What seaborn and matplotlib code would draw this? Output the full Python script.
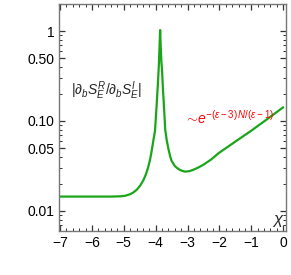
import matplotlib
matplotlib.use("Agg")
import matplotlib.pyplot as plt
import seaborn as sns
from matplotlib.ticker import FixedLocator, MultipleLocator, LogLocator, NullFormatter

# values
chi = [-7.0, -6.0, -5.4, -5.1, -4.96, -4.80, -4.70, -4.59, -4.48, -4.38, -4.30, -4.23,
       -4.17, -4.12, -4.07, -4.02, -3.97, -3.93, -3.90, -3.88, -3.86, -3.84, -3.82,
       -3.80, -3.77, -3.745, -3.70, -3.65, -3.60, -3.55, -3.50, -3.40, -3.29, -3.18,
       -3.08, -2.95, -2.82, -2.65, -2.50, -2.25, -2.03, -1.5, -1.0, -0.5, 0.0]
ratio = [0.0144, 0.0144, 0.0144, 0.0145, 0.0147, 0.0153, 0.0160, 0.0172, 0.0192, 0.0221,
         0.0258, 0.0310, 0.0380, 0.0476, 0.0615, 0.0780, 0.150, 0.26, 0.42, 0.65,
         1.03, 0.65, 0.45, 0.37, 0.22, 0.157, 0.080, 0.060, 0.049, 0.041, 0.036, 0.0315,
         0.0292, 0.0279, 0.0273, 0.0276, 0.0286, 0.0305, 0.0326, 0.0375, 0.0437,
         0.059, 0.078, 0.105, 0.142]

ytick_vals = [0.01, 0.05, 0.10, 0.50, 1]
ytick_labels = ["0.01", "0.05", "0.10", "0.50", "1"]
xtick_vals = [-7, -6, -5, -4, -3, -2, -1, 0]

sns.set_style("ticks")
plt.rcParams['font.family'] = ['Liberation Sans', 'DejaVu Sans']
plt.rcParams['mathtext.fontset'] = 'custom'
plt.rcParams['mathtext.rm'] = 'Liberation Sans'
plt.rcParams['mathtext.it'] = 'Liberation Sans:italic'

fig = plt.figure(figsize=(2.91, 2.75), dpi=100)
ax = fig.add_axes([0.203, 0.161, 0.78, 0.824])

sns.lineplot(x=chi, y=ratio, ax=ax, color="#1aa51a", linewidth=1.6)
ax.set_yscale("log")
ax.set_xlim(-7.03, 0.09)
ax.set_ylim(0.0060, 2.0)

ax.yaxis.set_major_locator(FixedLocator(ytick_vals))
ax.set_yticklabels(ytick_labels)
ax.yaxis.set_minor_locator(LogLocator(base=10, subs=range(2, 10)))
ax.yaxis.set_minor_formatter(NullFormatter())
ax.xaxis.set_major_locator(FixedLocator(xtick_vals))
ax.set_xticklabels(["\u22127", "\u22126", "\u22125", "\u22124", "\u22123", "\u22122", "\u22121", "0"])
ax.xaxis.set_minor_locator(MultipleLocator(0.2))

for s in ax.spines.values():
    s.set_color("#777777")
    s.set_linewidth(1.0)
ax.tick_params(which="both", direction="in", top=True, right=True, colors="#333333",
               labelcolor="black", labelsize=10)
ax.tick_params(which="major", length=4.5, width=0.9)
ax.tick_params(which="minor", length=2.5, width=0.7)
ax.set_xlabel("")
ax.set_ylabel("")

ax.text(0.21, 0.62, r"$|\partial_b S_E^R/\partial_b S_E^I|$", transform=ax.transAxes,
        ha="center", va="center", fontsize=10)
ax.text(0.75, 0.5, r"$\sim\!e^{-(\epsilon-3)\,N/(\epsilon-1)}$", transform=ax.transAxes,
        ha="center", va="center", fontsize=10, color="red")
ax.text(0.965, 0.045, r"$\chi$", transform=ax.transAxes, ha="center", va="center",
        fontsize=12)

plt.savefig("out.png", dpi=100)
